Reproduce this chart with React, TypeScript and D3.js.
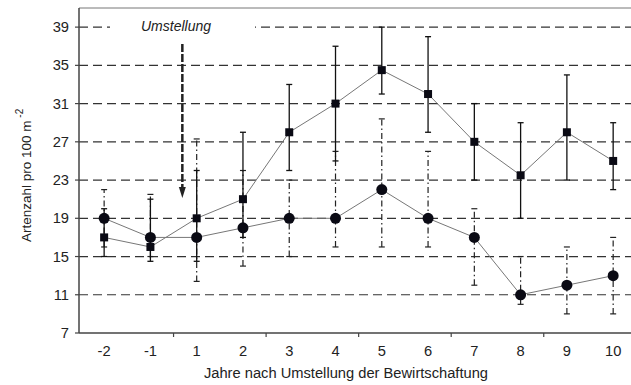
import React from "react";
import * as d3 from "d3";

// years relative to conversion
const years = ["-2", "-1", "1", "2", "3", "4", "5", "6", "7", "8", "9", "10"];

// series with squares (solid error bars)
const squareMean = [17, 16, 19, 21, 28, 31, 34.5, 32, 27, 23.5, 28, 25];
const squareLow = [15, 14.5, 14.5, 17, 24, 25, 32, 28, 23, 19, 23, 22];
const squareHigh = [20, 21, 24, 28, 33, 37, 39, 38, 31, 29, 34, 29];

// series with circles (dash-dot error bars)
const circleMean = [19, 17, 17, 18, 19, 19, 22, 19, 17, 11, 12, 13];
const circleLow = [16, 15, 12.4, 14, 15, 16, 16, 16, 12, 10, 9, 9];
const circleHigh = [22, 21.5, 27.3, 24, 23, 26, 29.4, 26, 20, 15, 16, 17];

const yTicks = [7, 11, 15, 19, 23, 27, 31, 35, 39];

const W = 631;
const H = 385;
const left = 79;
const top = 8;
const bottom = 333;

export default function App() {
  const x = d3.scaleBand<string>().domain(years).range([81, 636.3]).padding(0);
  const y = d3.scaleLinear().domain([7, 41]).range([bottom, top]);
  const cx = (i: number) => (x(years[i]) as number) + x.bandwidth() / 2;

  const line = d3
    .line<number>()
    .x((_, i) => cx(i))
    .y((d) => y(d));

  const font = "Arial, 'Liberation Sans', sans-serif";
  const cap = 3;

  // arrow position: a bit before year 1
  const arrowX = cx(2) - 0.31 * x.bandwidth();

  return (
    <svg
      width={W}
      height={H}
      style={{ position: "absolute", left: 0, top: 0, background: "#fff" }}
      fontFamily={font}
    >
      {/* grid lines */}
      {yTicks.slice(1).map((t) => (
        <line
          key={t}
          x1={left}
          x2={W}
          y1={y(t)}
          y2={y(t)}
          stroke="#333"
          strokeWidth={1.2}
          strokeDasharray="9,5"
        />
      ))}

      {/* frame */}
      <line x1={left} x2={W} y1={top} y2={top} stroke="#777" strokeWidth={1} />
      <line x1={left} x2={left} y1={top} y2={bottom} stroke="#444" strokeWidth={1.5} />
      <line x1={left} x2={W} y1={bottom} y2={bottom} stroke="#444" strokeWidth={1.5} />

      {/* y ticks */}
      {yTicks.map((t) => (
        <g key={t}>
          <line x1={left - 4} x2={left} y1={y(t)} y2={y(t)} stroke="#444" strokeWidth={1.2} />
          <text x={69} y={y(t) + 5} textAnchor="end" fontSize={14.7} fill="#222">
            {t}
          </text>
        </g>
      ))}

      {/* x ticks every second band */}
      {d3.range(2, years.length, 2).map((i) => {
        const xx = x(years[i]) as number;
        return <line key={i} x1={xx} x2={xx} y1={bottom} y2={bottom + 4} stroke="#444" strokeWidth={1.2} />;
      })}
      {years.map((c, i) => (
        <text key={c} x={cx(i)} y={356} textAnchor="middle" fontSize={14.7} fill="#222">
          {c}
        </text>
      ))}

      {/* Umstellung label */}
      <rect x={110} y={14} width={145} height={22} fill="#fff" />
      <text x={176} y={31} textAnchor="middle" fontSize={14} fontStyle="italic" fill="#222">
        Umstellung
      </text>

      {/* arrow */}
      <line
        x1={arrowX}
        x2={arrowX}
        y1={44}
        y2={188}
        stroke="#222"
        strokeWidth={2.5}
        strokeDasharray="8,2"
      />
      <path d={`M${arrowX - 3.5},187 L${arrowX + 3.5},187 L${arrowX},198 Z`} fill="#222" />

      {/* circle error bars (dash-dot) */}
      {circleMean.map((_, i) => (
        <g key={"ce" + i} stroke="#222" strokeWidth={1.2}>
          <line x1={cx(i)} x2={cx(i)} y1={y(circleLow[i])} y2={y(circleHigh[i])} strokeDasharray="6,3,1.5,3" />
          <line x1={cx(i) - cap} x2={cx(i) + cap} y1={y(circleLow[i])} y2={y(circleLow[i])} />
          <line x1={cx(i) - cap} x2={cx(i) + cap} y1={y(circleHigh[i])} y2={y(circleHigh[i])} />
        </g>
      ))}

      {/* square error bars (solid) */}
      {squareMean.map((_, i) => (
        <g key={"se" + i} stroke="#111" strokeWidth={1.3}>
          <line x1={cx(i)} x2={cx(i)} y1={y(squareLow[i])} y2={y(squareHigh[i])} />
          <line x1={cx(i) - cap} x2={cx(i) + cap} y1={y(squareLow[i])} y2={y(squareLow[i])} />
          <line x1={cx(i) - cap} x2={cx(i) + cap} y1={y(squareHigh[i])} y2={y(squareHigh[i])} />
        </g>
      ))}

      {/* connecting lines */}
      <path d={line(squareMean) || ""} fill="none" stroke="#777" strokeWidth={1} />
      <path d={line(circleMean) || ""} fill="none" stroke="#777" strokeWidth={1} />

      {/* markers */}
      {squareMean.map((v, i) => (
        <rect key={"s" + i} x={cx(i) - 4} y={y(v) - 4} width={8} height={8} fill="#0a0a14" />
      ))}
      {circleMean.map((v, i) => (
        <circle key={"c" + i} cx={cx(i)} cy={y(v)} r={5.5} fill="#0a0a14" />
      ))}

      {/* axis titles */}
      <text x={346} y={378} textAnchor="middle" fontSize={14.7} fill="#222">
        Jahre nach Umstellung der Bewirtschaftung
      </text>
      <text transform="translate(31,242) rotate(-90)" textAnchor="start" fontSize={13.5} fill="#222">
        Artenzahl pro 100 m
        <tspan dy={-8} fontSize={10}>
          {" -2"}
        </tspan>
      </text>
    </svg>
  );
}
